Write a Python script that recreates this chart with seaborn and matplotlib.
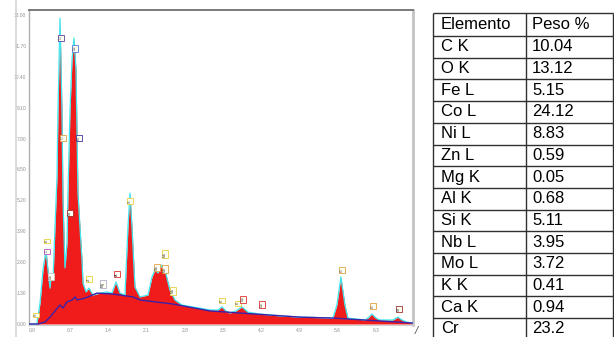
import seaborn as sns
import matplotlib.pyplot as plt
import numpy as np
import pandas as pd

# EDS spectrum (energy in keV, counts in axis units)
energy = [-0.05, 0.073, 0.092, 0.147, 0.201, 0.256, 0.293, 0.330, 0.348, 0.385,
          0.421, 0.458, 0.476, 0.513, 0.549, 0.568, 0.604, 0.641, 0.659, 0.696,
          0.733, 0.769, 0.806, 0.824, 0.842, 0.879, 0.916, 0.934, 0.989, 1.044,
          1.117, 1.245, 1.374, 1.465, 1.538, 1.612, 1.703, 1.758, 1.795, 1.832,
          1.886, 1.978, 2.125, 2.198, 2.253, 2.308, 2.381, 2.436, 2.527, 2.619,
          2.747, 3.260, 3.407, 3.480, 3.553, 3.626, 3.736, 3.846, 3.956, 4.176,
          4.542, 4.908, 5.513, 5.586, 5.659, 5.733, 5.788, 6.099, 6.154, 6.227,
          6.300, 6.374, 6.612, 6.703, 6.777, 6.868, 6.978]
counts = [0.0, 0.0, 0.04, 0.88, 2.27, 3.11, 2.27, 1.51, 1.98, 1.85,
          4.08, 6.18, 9.00, 12.87, 9.00, 5.22, 2.36, 3.41, 5.51, 9.00,
          11.11, 12.03, 10.69, 8.16, 5.51, 4.08, 2.69, 1.72, 1.35, 1.51,
          1.22, 1.30, 1.35, 1.30, 1.77, 1.30, 1.22, 4.08, 5.51, 4.08,
          1.56, 1.14, 1.22, 1.98, 2.27, 2.15, 2.48, 2.27, 1.43, 1.01,
          0.80, 0.59, 0.59, 0.72, 0.55, 0.46, 0.55, 0.72, 0.50, 0.42,
          0.34, 0.29, 0.25, 0.80, 1.98, 0.80, 0.25, 0.17, 0.25, 0.42,
          0.25, 0.17, 0.17, 0.29, 0.17, 0.08, 0.04]

# Background fit (blue line)
bg_energy = [-0.05, 0.11, 0.238, 0.330, 0.421, 0.513, 0.568, 0.641, 0.733, 0.788,
             0.824, 0.971, 1.190, 1.484, 1.850, 1.978, 2.582, 3.260, 4.908, 5.513,
             6.978]
bg_counts = [0.0, 0.0, 0.08, 0.29, 0.55, 0.80, 0.67, 0.93, 1.01, 1.14,
             1.01, 1.09, 1.30, 1.26, 1.14, 1.01, 0.84, 0.55, 0.29, 0.25,
             0.04]

# Peak label boxes
lab_text = ["O", "Co", "O", "Fe", "Ni", "K", "C", "Ca", "S", "Zr", "Mg", "Al", "Si",
            "Mo", "Nb", "Mo", "Mo", "K", "K", "Ca", "Ca", "Cr", "Cr", "Ni"]
lab_e = [0.531, 0.788, 0.568, 0.861, 0.696, 0.275, 0.275, 0.348, 0.073, 1.044, 1.300,
         1.557, 1.795, 2.436, 2.289, 2.436, 2.582, 3.480, 3.773, 3.864, 4.212,
         5.678, 6.245, 6.722]
lab_c = [12.03, 11.61, 7.83, 7.83, 4.67, 3.49, 3.07, 1.98, 0.38, 1.89, 1.68,
         2.10, 5.17, 2.94, 2.36, 2.31, 1.39, 0.97, 0.88, 1.05, 0.80,
         2.27, 0.76, 0.63]
lab_col = ["#6040a0", "#5080d0", "#e0a040", "#4030a0", "#a03030", "#e8d040",
           "#c050c0", "#c8c8c8", "#e8d040", "#e8d040", "#b0b0c8", "#e03030",
           "#e8d040", "#e8d040", "#e0a040", "#e0a040", "#e8d040", "#e8d040",
           "#e8d040", "#e03030", "#e03030", "#e0a040", "#e0a040", "#a03030"]

x_ticks = [0.0, 0.7, 1.4, 2.1, 2.8, 3.5, 4.2, 4.9, 5.6, 6.3]
y_ticks = [0.0, 1.3, 2.6, 3.9, 5.2, 6.5, 7.8, 9.1, 10.4, 11.7, 13.0]

# Composition table
elementos = ["C K", "O K", "Fe L", "Co L", "Ni L", "Zn L", "Mg K", "Al K",
             "Si K", "Nb L", "Mo L", "K K", "Ca K", "Cr"]
peso = ["10.04", "13.12", "5.15", "24.12", "8.83", "0.59", "0.05", "0.68",
        "5.11", "3.95", "3.72", "0.41", "0.94", "23.2"]

sns.set_style("white")
plt.rcParams["font.family"] = ["Liberation Sans Narrow", "Liberation Sans", "DejaVu Sans"]

W, H = 614, 337
fig = plt.figure(figsize=(W / 100, H / 100), dpi=100)

ax = fig.add_axes([29 / W, (H - 325) / H, (413 - 29) / W, (325 - 10) / H])
spec = pd.DataFrame({"E": energy, "C": counts})
bg = pd.DataFrame({"E": bg_energy, "C": bg_counts})

ax.fill_between(spec["E"], 0, spec["C"], color="#f01c1c", lw=0, zorder=2)
sns.lineplot(data=spec, x="E", y="C", ax=ax, color="#3fe8f0", lw=0.9,
             sort=False, zorder=3)
sns.lineplot(data=bg, x="E", y="C", ax=ax, color="#3a22a8", lw=1.0,
             sort=False, zorder=4)

for t, e, c, col in zip(lab_text, lab_e, lab_c, lab_col):
    ax.text(e, c, t, fontsize=2.6, rotation=90, ha="center", va="center",
            color="#404040", zorder=5,
            bbox=dict(boxstyle="square,pad=0.35", fc="#fffff4", ec=col, lw=0.6))

ax.set_xlim(-0.055, 6.98)
ax.set_ylim(-0.042, 13.21)
ax.set_xticks(x_ticks)
ax.set_xticklabels([f"{v:.1f}" for v in x_ticks])
ax.set_yticks(y_ticks)
ax.set_yticklabels([f"{v:.2f}" for v in y_ticks])
ax.tick_params(labelsize=3.5, labelcolor="#909090", length=0, pad=2)
ax.set_xlabel("")
ax.set_ylabel("")
ax.spines["top"].set_color("#7a7a7a")
ax.spines["top"].set_linewidth(1.4)
ax.spines["right"].set_color("#c4c4c4")
ax.spines["right"].set_linewidth(2.0)
ax.spines["left"].set_color("#b0b0b0")
ax.spines["left"].set_linewidth(1.0)
ax.spines["bottom"].set_color("#d0d0d0")
ax.spines["bottom"].set_linewidth(0.8)

# overlay axes in pixel units for the frame line and the table
ov = fig.add_axes([0, 0, 1, 1])
ov.set_xlim(0, W)
ov.set_ylim(H, 0)
ov.axis("off")
ov.vlines(16, 0, H, color="#d4d4d4", lw=1.2)
ov.text(416, 331, "/", fontsize=8, color="#505050", ha="center", va="center",
        style="italic")

tx0, tmid, tx1 = 433, 526, 613
top, head_h, row_h = 13, 23, 21.7
n = len(elementos)
row_edges = [top, top + head_h] + [top + head_h + row_h * (i + 1) for i in range(n)]
for y in row_edges:
    ov.hlines(y, tx0, tx1, color="#303030", lw=1.0)
ov.vlines([tx0, tmid, tx1], top, row_edges[-1], color="#303030", lw=1.0)

txt_kw = dict(fontsize=12, color="black", va="center", ha="left")
ov.text(tx0 + 8, top + head_h / 2, "Elemento", **txt_kw)
ov.text(tmid + 6, top + head_h / 2, "Peso %", **txt_kw)
for i, (el, p) in enumerate(zip(elementos, peso)):
    yc = top + head_h + row_h * i + row_h / 2
    ov.text(tx0 + 8, yc, el, **txt_kw)
    ov.text(tmid + 6, yc, p, **txt_kw)

fig.savefig("out.png", dpi=100)
